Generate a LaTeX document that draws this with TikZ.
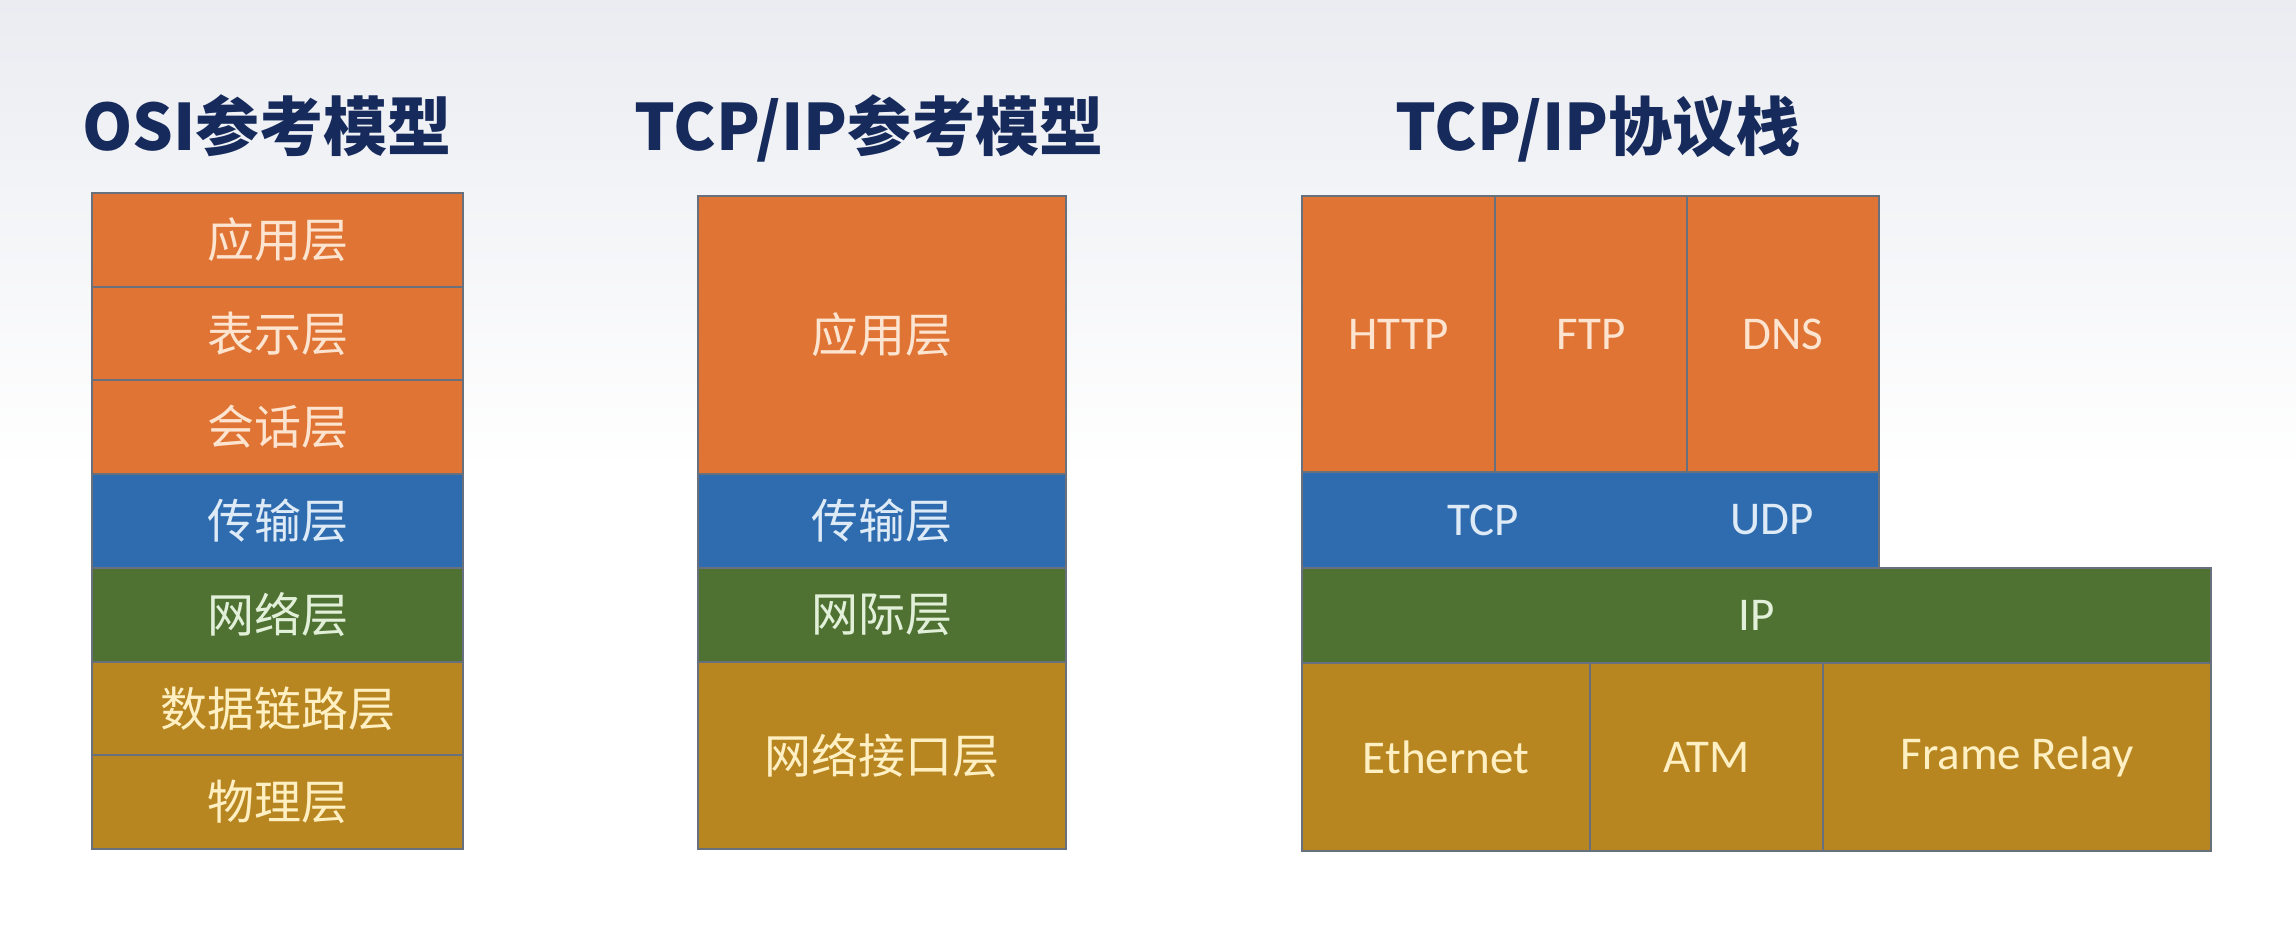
\documentclass[tikz,border=0pt]{standalone}
\usepackage{fontspec}
\setmainfont{Carlito}
\newfontfamily\cjk{Noto Sans CJK SC}
\definecolor{bgtop}{RGB}{234,236,241}
\definecolor{navy}{RGB}{22,42,92}
\definecolor{orangeC}{RGB}{224,116,52}
\definecolor{blueC}{RGB}{46,108,175}
\definecolor{greenC}{RGB}{79,114,50}
\definecolor{goldC}{RGB}{184,134,32}
\definecolor{orangeT}{RGB}{252,228,208}
\definecolor{blueT}{RGB}{222,235,247}
\definecolor{greenT}{RGB}{226,240,217}
\definecolor{goldT}{RGB}{255,240,196}
\definecolor{lineC}{RGB}{105,112,125}
\tikzset{
  cell/.style={draw=lineC, line width=2pt, inner sep=0pt, outer sep=0pt},
  cellnd/.style={inner sep=0pt, outer sep=0pt},
  ora/.style={fill=orangeC, text=orangeT},
  blu/.style={fill=blueC, text=blueT},
  gre/.style={fill=greenC, text=greenT},
  gol/.style={fill=goldC, text=goldT},
  zh/.style={font=\cjk\fontsize{47}{47}\selectfont},
  en/.style={font=\fontsize{47}{47}\selectfont},
  title/.style={text=navy, anchor=base, inner sep=0pt, font=\cjk\bfseries\fontsize{64}{64}\selectfont},
  frame/.style={draw=lineC, line width=2pt}
}
\begin{document}
\begin{tikzpicture}[x=1pt,y=-1pt]
\useasboundingbox (0,0) rectangle (2296,927);
\shade[top color=bgtop, bottom color=white] (0,0) rectangle (2296,470);
\fill[white] (0,469) rectangle (2296,927);

% titles
\node[title] (t1) at (267,150) {OSI参考模型};
\node[title] (t2) at (869,150) {TCP/IP参考模型};
\node[title] (t3) at (1598,150) {TCP/IP协议栈};

% OSI
\node[cell,ora,zh,minimum width=371pt,minimum height=94pt] (o1) at (277.5,240) {应用层};
\node[cell,ora,zh,minimum width=371pt,minimum height=93pt] (o2) at (277.5,333.5) {表示层};
\node[cell,ora,zh,minimum width=371pt,minimum height=94pt] (o3) at (277.5,427) {会话层};
\node[cell,blu,zh,minimum width=371pt,minimum height=94pt] (o4) at (277.5,521) {传输层};
\node[cell,gre,zh,minimum width=371pt,minimum height=94pt] (o5) at (277.5,615) {网络层};
\node[cell,gol,zh,minimum width=371pt,minimum height=93pt] (o6) at (277.5,708.5) {数据链路层};
\node[cell,gol,zh,minimum width=371pt,minimum height=94pt] (o7) at (277.5,802) {物理层};

% TCP/IP model
\node[cell,ora,zh,minimum width=368pt,minimum height=278pt] (m1) at (882,335) {应用层};
\node[cell,blu,zh,minimum width=368pt,minimum height=94pt] (m2) at (882,521) {传输层};
\node[cell,gre,zh,minimum width=368pt,minimum height=94pt] (m3) at (882,615) {网际层};
\node[cell,gol,zh,minimum width=368pt,minimum height=187pt] (m4) at (882,755.5) {网络接口层};

% TCP/IP protocol stack
\node[cell,ora,en,minimum width=193pt,minimum height=276pt] (http) at (1398.5,334) {HTTP};
\node[cell,ora,en,minimum width=192pt,minimum height=276pt] (ftp) at (1591,334) {FTP};
\node[cell,ora,en,minimum width=192pt,minimum height=276pt] (dns) at (1783,334) {DNS};
\node[cellnd,blu,en,minimum width=363pt,minimum height=96pt] (tcp) at (1483.5,520) {TCP};
\node[cellnd,blu,en,minimum width=214pt,minimum height=96pt] (udp) at (1772,520) {UDP};
\draw[frame] (tcp.north west) rectangle (udp.south east);
\node[cell,gre,en,minimum width=909pt,minimum height=95pt] (ip) at (1756.5,615.5) {IP};
\node[cell,gol,en,minimum width=288pt,minimum height=188pt] (eth) at (1446,757) {Ethernet};
\node[cell,gol,en,minimum width=233pt,minimum height=188pt] (atm) at (1706.5,757) {ATM};
\node[cell,gol,en,minimum width=388pt,minimum height=188pt] (fr) at (2017,757) {Frame Relay};
\end{tikzpicture}
\end{document}
